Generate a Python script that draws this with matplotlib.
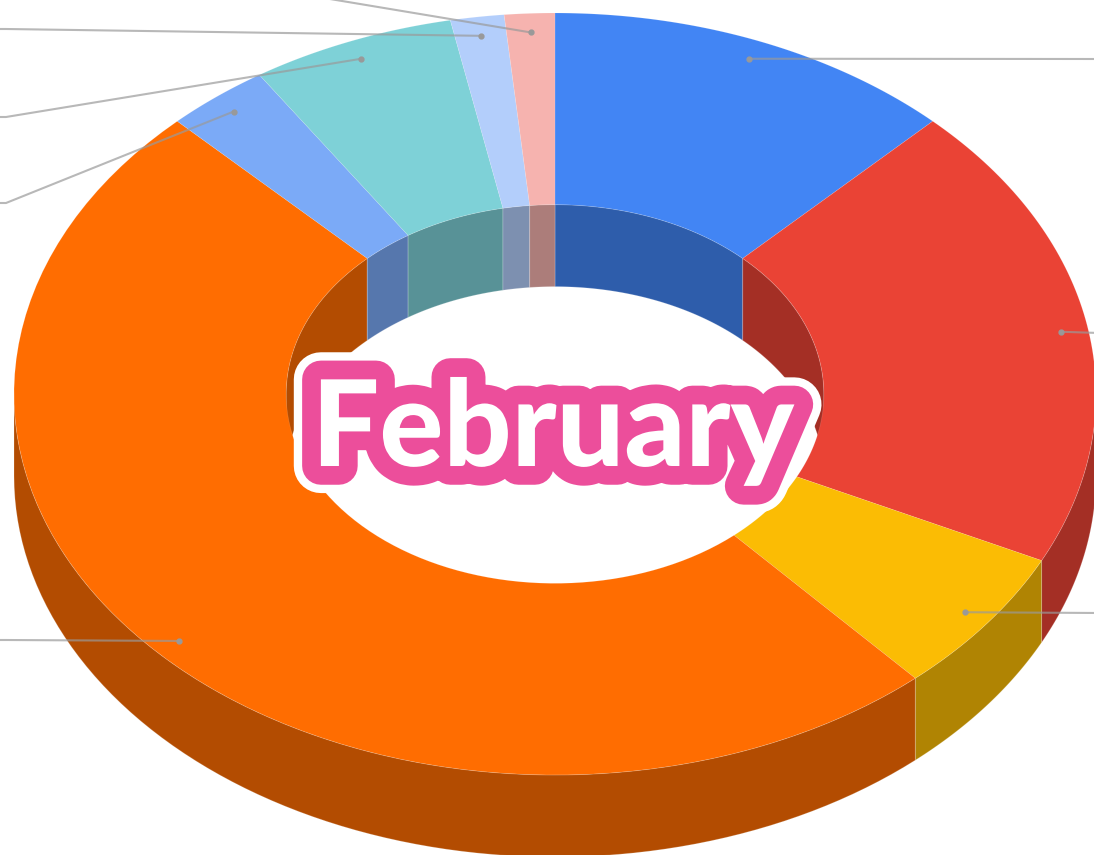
import numpy as np
import matplotlib.pyplot as plt
import matplotlib.patheffects as pe
from matplotlib.patches import Polygon

# slice shares in percent, clockwise from 12 o'clock
slices = ['Blue', 'Red', 'Yellow', 'Orange', 'Light blue', 'Teal', 'Pale blue', 'Pink']
shares = [12.3, 19.9, 6.2, 49.3, 3.1, 6.1, 1.6, 1.5]
top_colors = ['#4285F4', '#EA4335', '#FBBC04', '#FF6D01', '#7BAAF7', '#7ED1D7', '#B3CEFB', '#F6B3AF']
title = 'February'

# where the (cropped-away) labels sit: side and row in pixels
label_side = [1, 1, 1, -1, -1, -1, -1, -1]
label_row = [59, 333, 613, 640, 203, 117, 29, -55]

W, H = 1094, 855
cx, cy = 555, 394      # centre of the top face
rx, ry = 541, 381      # outer radii of the top face
hole = 0.497           # inner radius / outer radius
depth = 82             # thickness of the ring
shade = 0.70           # side walls are darker


def pt(a, r, dz=0.0):
    # a in degrees, clockwise from top
    t = np.radians(a)
    return cx + r * rx * np.sin(t), cy - r * ry * np.cos(t) + dz


def arc(a0, a1, r, dz=0.0, n=80):
    aa = np.linspace(a0, a1, n)
    x, y = pt(aa, r, dz)
    return np.column_stack([x, y])


def darker(c):
    c = c.lstrip('#')
    rgb = [int(c[i:i + 2], 16) / 255 for i in (0, 2, 4)]
    return tuple(v * shade for v in rgb)


fig = plt.figure(figsize=(W / 100, H / 100), dpi=100)
ax = fig.add_axes([0, 0, 1, 1])
ax.set_xlim(0, W)
ax.set_ylim(H, 0)
ax.axis('off')

edges = np.concatenate([[0], np.cumsum(shares)]) / np.sum(shares) * 360

for i, col in enumerate(top_colors):
    a0, a1 = edges[i], edges[i + 1]
    wall = darker(col)
    # outer wall, front half (90..270)
    s, e = max(a0, 90), min(a1, 270)
    if e > s:
        poly = np.vstack([arc(s, e, 1), arc(e, s, 1, depth)])
        ax.add_patch(Polygon(poly, closed=True, fc=wall, ec=(1, 1, 1, 0.2), lw=0.7, zorder=1))
    # inner wall, back half (270..450)
    for lo, hi in [(-90, 90), (270, 450)]:
        s, e = max(a0, lo), min(a1, hi)
        if e > s:
            poly = np.vstack([arc(s, e, hole), arc(e, s, hole, depth)])
            ax.add_patch(Polygon(poly, closed=True, fc=wall, ec=(1, 1, 1, 0.2), lw=0.7, zorder=1))

# top face
for i, col in enumerate(top_colors):
    a0, a1 = edges[i], edges[i + 1]
    poly = np.vstack([arc(a0, a1, 1), arc(a1, a0, hole)])
    ax.add_patch(Polygon(poly, closed=True, fc=col, ec=(1, 1, 1, 0.15), lw=0.5, zorder=2))

# leader lines, the labels are outside the crop
for i in range(len(shares)):
    mid = (edges[i] + edges[i + 1]) / 2
    x0, y0 = pt(mid, 0.95)
    if label_side[i] > 0:
        xs = [x0, W + 5, W + 60]
    else:
        xs = [x0, 6, -60]
    ys = [y0, label_row[i], label_row[i]]
    ax.plot(xs, ys, color='#9a9a9a', alpha=0.7, lw=1.5, zorder=3)
    ax.plot([x0], [y0], 'o', ms=3.5, color='#999999', zorder=3)

ax.text(553, 466, title, ha='center', va='baseline', fontsize=86,
        family=['Lato', 'DejaVu Sans'], fontweight='black', color='white', zorder=5,
        path_effects=[pe.Stroke(linewidth=39, foreground='white', joinstyle='round', capstyle='round'),
                      pe.Stroke(linewidth=27, foreground='#EC4E9B', joinstyle='round', capstyle='round'),
                      pe.Normal()])

fig.savefig('out.png', dpi=100, facecolor='white')
